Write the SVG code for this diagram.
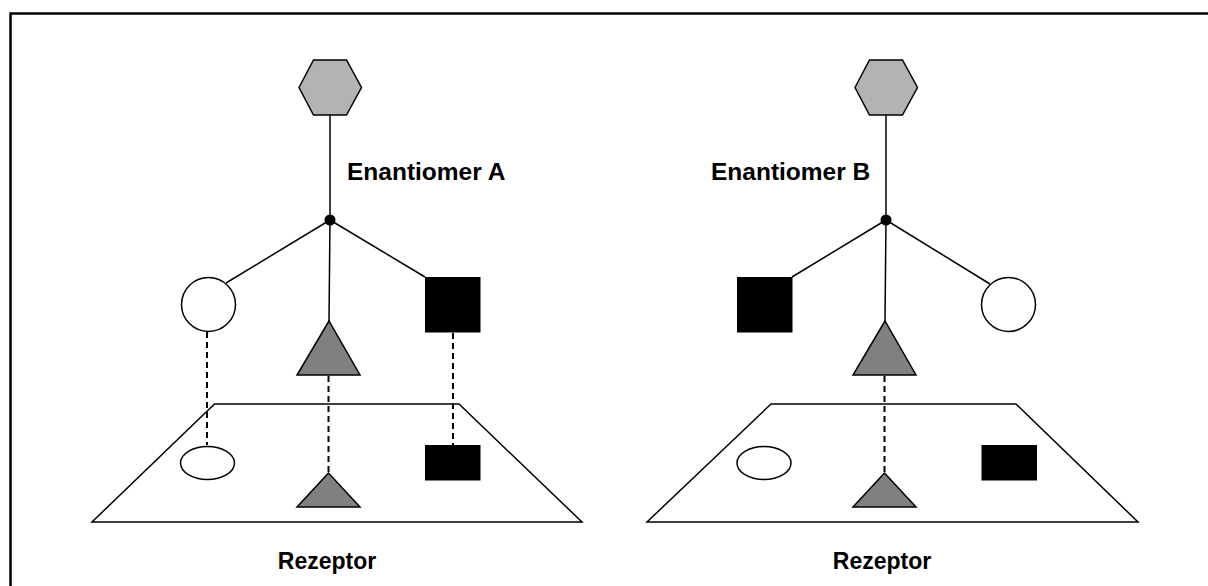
<svg xmlns="http://www.w3.org/2000/svg" width="1208" height="586" viewBox="0 0 1208 586">
<style>
.ln{stroke:#000;stroke-width:1.5;fill:none}
.dash{stroke:#000;stroke-width:2;stroke-dasharray:6 4;fill:none}
.hex{fill:#b3b3b3;stroke:#000;stroke-width:1.5}
.tri{fill:#808080;stroke:#000;stroke-width:1.5}
.blk{fill:#000;stroke:#000;stroke-width:1}
.wht{fill:#fff;stroke:#000;stroke-width:1.5}
.lbl{font-family:"Liberation Sans",Arial,sans-serif;font-weight:bold;fill:#000}
</style>
<rect x="0" y="0" width="1208" height="586" fill="#fff"/>
<rect x="10.5" y="13.5" width="1220" height="600" fill="none" stroke="#000" stroke-width="2.5"/>
<g id="receptorA">
<polygon class="wht" points="214.5,404 459,404 582,522 92,522"/>
<ellipse class="wht" cx="207.5" cy="463" rx="27" ry="16.5"/>
<polygon class="tri" points="328.5,473 297,507 360,507"/>
<rect class="blk" x="425.5" y="445.5" width="54.5" height="34.5"/>
</g>
<g id="receptorB">
<polygon class="wht" points="771,404 1016,404 1138,522 647,522"/>
<ellipse class="wht" cx="764" cy="463" rx="27" ry="16.5"/>
<polygon class="tri" points="884.5,473 853,507 916,507"/>
<rect class="blk" x="982" y="445.5" width="54.5" height="34.5"/>
</g>
<g id="connectors">
<line class="ln" x1="330" y1="115" x2="330" y2="220"/>
<line class="ln" x1="330" y1="220" x2="226" y2="283"/>
<line class="ln" x1="330" y1="220" x2="425" y2="277"/>
<line class="ln" x1="330" y1="220" x2="329" y2="321"/>
<line class="dash" x1="207" y1="332" x2="207" y2="445"/>
<line class="dash" x1="328.5" y1="376" x2="328.5" y2="473"/>
<line class="dash" x1="453" y1="333" x2="453" y2="445"/>
<line class="ln" x1="886" y1="115" x2="886" y2="220"/>
<line class="ln" x1="886" y1="220" x2="990" y2="284"/>
<line class="ln" x1="886" y1="220" x2="792" y2="277"/>
<line class="ln" x1="886" y1="220" x2="885" y2="321"/>
<line class="dash" x1="884.5" y1="376" x2="884.5" y2="473"/>
</g>
<g id="enantiomerA">
<polygon class="hex" points="299,87.5 313.5,60 346.5,60 361.5,87.5 346.5,115 313.5,115"/>
<circle cx="330" cy="220" r="5.5" fill="#000"/>
<circle class="wht" cx="208.5" cy="304.5" r="27"/>
<polygon class="tri" points="329,321 297,375 360,375"/>
<rect class="blk" x="425.5" y="277.5" width="54.5" height="54.5"/>
</g>
<g id="enantiomerB">
<polygon class="hex" points="855,87.5 869.5,60 902.5,60 917.5,87.5 902.5,115 869.5,115"/>
<circle cx="886" cy="220" r="5.5" fill="#000"/>
<circle class="wht" cx="1008.5" cy="304.5" r="27"/>
<polygon class="tri" points="885,321 853,375 916,375"/>
<rect class="blk" x="737.5" y="277.5" width="54.5" height="54.5"/>
</g>
<g id="labels">
<text class="lbl" x="347" y="180" font-size="24.5">Enantiomer A</text>
<text class="lbl" x="711" y="180" font-size="24.5">Enantiomer B</text>
<text class="lbl" x="327" y="569" font-size="23" text-anchor="middle">Rezeptor</text>
<text class="lbl" x="882" y="569" font-size="23" text-anchor="middle">Rezeptor</text>
</g>
</svg>
